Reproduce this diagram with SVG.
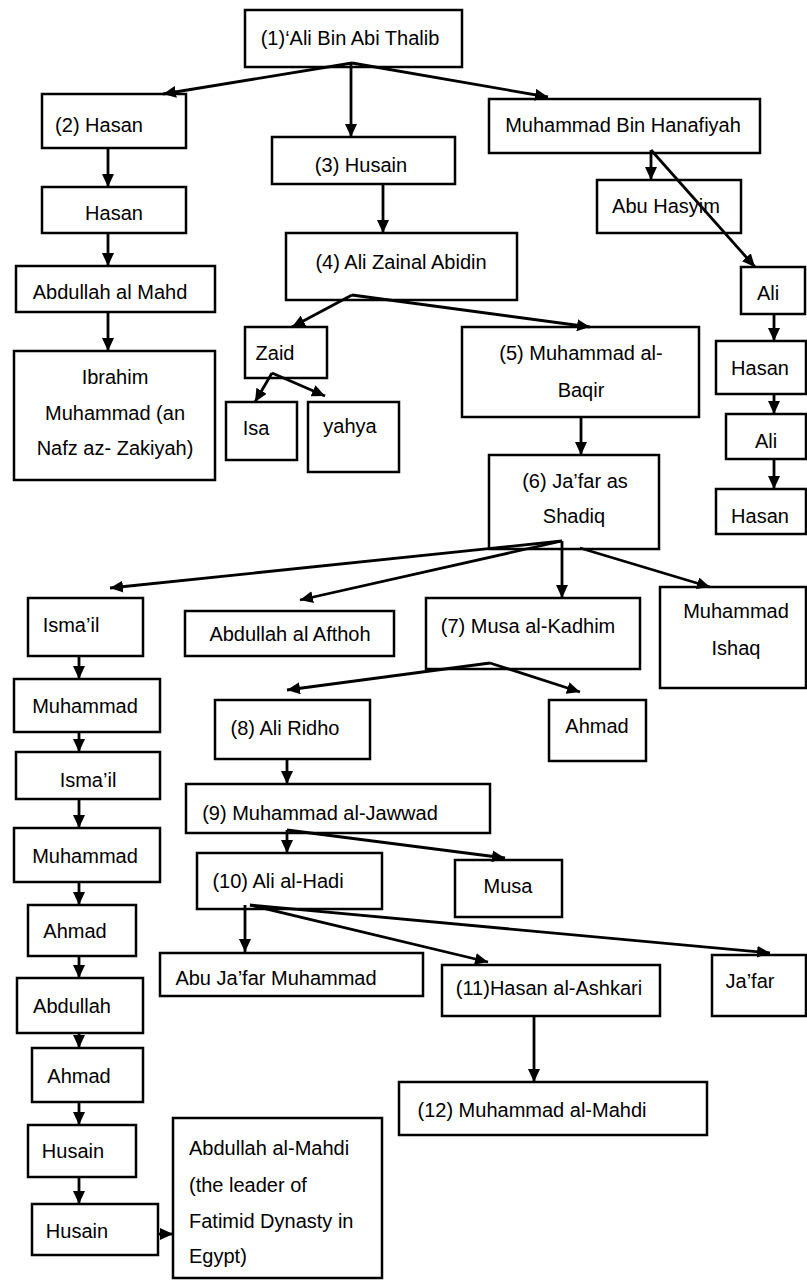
<svg xmlns="http://www.w3.org/2000/svg" width="807" height="1281" viewBox="0 0 807 1281">
<defs>
<marker id="ah" markerUnits="userSpaceOnUse" markerWidth="14" markerHeight="12" refX="13" refY="6" orient="auto">
<path d="M0,0 L13,6 L0,12 z" fill="#000"/>
</marker>
<style>
rect{fill:#fff;stroke:#000;stroke-width:2.5}
text{font-family:"Liberation Sans",Arial,sans-serif;font-size:20px;fill:#000}
.m{text-anchor:middle}
.c line{stroke:#000;stroke-width:2.8;fill:none}
.a{marker-end:url(#ah)}
</style>
</defs>
<rect x="0" y="0" width="807" height="1281" style="fill:#fff;stroke:none"/>
<g id="n1"><rect x="245" y="10" width="217" height="57"/><text class="m" x="350" y="45">(1)‘Ali Bin Abi Thalib</text></g>
<g id="n2"><rect x="42" y="94" width="144" height="54"/><text class="m" x="99" y="132">(2) Hasan</text></g>
<g id="n2a"><rect x="42" y="187" width="144" height="46"/><text class="m" x="114" y="220">Hasan</text></g>
<g id="n2b"><rect x="16" y="266" width="199" height="46"/><text class="m" x="110" y="299">Abdullah al Mahd</text></g>
<g id="n2c"><rect x="14" y="351" width="201" height="129"/><text class="m" x="115" y="384">Ibrahim</text><text class="m" x="115" y="420">Muhammad (an</text><text class="m" x="115" y="455">Nafz az- Zakiyah)</text></g>
<g id="n3"><rect x="272" y="137" width="183" height="47"/><text class="m" x="361" y="172">(3) Husain</text></g>
<g id="n4"><rect x="286" y="233" width="231" height="67"/><text class="m" x="401" y="269">(4) Ali Zainal Abidin</text></g>
<g id="mbh"><rect x="489" y="99" width="271" height="54"/><text class="m" x="623" y="132">Muhammad Bin Hanafiyah</text></g>
<g id="abuhasyim"><rect x="597" y="180" width="144" height="53"/><text class="m" x="666" y="213">Abu Hasyim</text></g>
<g id="ali1"><rect x="741" y="267" width="64" height="47"/><text class="m" x="768" y="300">Ali</text></g>
<g id="hasan1"><rect x="716" y="341" width="90" height="53"/><text class="m" x="760" y="375">Hasan</text></g>
<g id="ali2"><rect x="726" y="414" width="80" height="45"/><text class="m" x="766" y="448">Ali</text></g>
<g id="hasan2"><rect x="716" y="489" width="90" height="45"/><text class="m" x="760" y="523">Hasan</text></g>
<g id="zaid"><rect x="245" y="327" width="82" height="51"/><text class="m" x="275" y="360">Zaid</text></g>
<g id="isa"><rect x="226" y="402" width="71" height="58"/><text class="m" x="256" y="435">Isa</text></g>
<g id="yahya"><rect x="308" y="402" width="91" height="70"/><text class="m" x="350" y="433">yahya</text></g>
<g id="n5"><rect x="462" y="327" width="237" height="90"/><text class="m" x="581" y="360">(5) Muhammad al-</text><text class="m" x="581" y="397">Baqir</text></g>
<g id="n6"><rect x="489" y="455" width="170" height="94"/><text class="m" x="575" y="488">(6) Ja’far as</text><text class="m" x="574" y="523">Shadiq</text></g>
<g id="ismail1"><rect x="28" y="598" width="115" height="58"/><text class="m" x="71" y="632">Isma’il</text></g>
<g id="afthoh"><rect x="185" y="611" width="209" height="45"/><text class="m" x="290" y="641">Abdullah al Afthoh</text></g>
<g id="n7"><rect x="426" y="598" width="214" height="71"/><text class="m" x="528" y="633">(7) Musa al-Kadhim</text></g>
<g id="ishaq"><rect x="660" y="587" width="146" height="101"/><text class="m" x="736" y="618">Muhammad</text><text class="m" x="736" y="655">Ishaq</text></g>
<g id="muh1"><rect x="14" y="679" width="146" height="53"/><text class="m" x="85" y="713">Muhammad</text></g>
<g id="ismail2"><rect x="16" y="752" width="144" height="47"/><text class="m" x="88" y="787">Isma’il</text></g>
<g id="muh2"><rect x="14" y="828" width="146" height="54"/><text class="m" x="85" y="863">Muhammad</text></g>
<g id="ahmad1"><rect x="28" y="905" width="108" height="51"/><text class="m" x="75" y="938">Ahmad</text></g>
<g id="abdullah"><rect x="17" y="978" width="126" height="55"/><text class="m" x="72" y="1013">Abdullah</text></g>
<g id="ahmad2"><rect x="32" y="1048" width="111" height="54"/><text class="m" x="79" y="1083">Ahmad</text></g>
<g id="husain1"><rect x="28" y="1125" width="108" height="52"/><text class="m" x="73" y="1158">Husain</text></g>
<g id="husain2"><rect x="32" y="1204" width="126" height="51"/><text class="m" x="77" y="1238">Husain</text></g>
<g id="mahdi_f"><rect x="173" y="1118" width="209" height="160"/><text x="189" y="1155">Abdullah al-Mahdi</text><text x="189" y="1192">(the leader of</text><text x="189" y="1228">Fatimid Dynasty in</text><text x="189" y="1263">Egypt)</text></g>
<g id="n8"><rect x="215" y="700" width="155" height="59"/><text class="m" x="285" y="735">(8) Ali Ridho</text></g>
<g id="ahmad3"><rect x="549" y="700" width="97" height="61"/><text class="m" x="597" y="733">Ahmad</text></g>
<g id="n9"><rect x="186" y="784" width="304" height="49"/><text class="m" x="320" y="820">(9) Muhammad al-Jawwad</text></g>
<g id="n10"><rect x="197" y="853" width="185" height="56"/><text class="m" x="278" y="888">(10) Ali al-Hadi</text></g>
<g id="musa"><rect x="455" y="860" width="107" height="57"/><text class="m" x="508" y="893">Musa</text></g>
<g id="abujafar"><rect x="160" y="953" width="263" height="43"/><text class="m" x="276" y="985">Abu Ja’far Muhammad</text></g>
<g id="n11"><rect x="442" y="965" width="218" height="51"/><text class="m" x="549" y="995">(11)Hasan al-Ashkari</text></g>
<g id="jafar"><rect x="712" y="955" width="94" height="61"/><text class="m" x="750" y="988">Ja’far</text></g>
<g id="n12"><rect x="399" y="1082" width="308" height="53"/><text class="m" x="532" y="1117">(12) Muhammad al-Mahdi</text></g>
<g class="c" id="connectors">
<line class="a" x1="352" y1="63" x2="163" y2="94"/>
<line class="a" x1="351" y1="63" x2="351" y2="137"/>
<line class="a" x1="352" y1="63" x2="548" y2="97"/>
<line class="a" x1="108" y1="148" x2="108" y2="187"/>
<line class="a" x1="108" y1="233" x2="108" y2="266"/>
<line class="a" x1="108" y1="312" x2="108" y2="351"/>
<line class="a" x1="383" y1="184" x2="383" y2="233"/>
<line class="a" x1="352" y1="295" x2="292" y2="327"/>
<line class="a" x1="352" y1="295" x2="590" y2="327"/>
<line class="a" x1="272" y1="373" x2="255" y2="402"/>
<line class="a" x1="272" y1="373" x2="325" y2="396"/>
<line class="a" x1="651" y1="150" x2="651" y2="180"/>
<line class="a" x1="651" y1="150" x2="755" y2="267"/>
<line class="a" x1="774" y1="314" x2="774" y2="341"/>
<line class="a" x1="774" y1="394" x2="774" y2="414"/>
<line class="a" x1="774" y1="459" x2="774" y2="489"/>
<line class="a" x1="581" y1="417" x2="581" y2="455"/>
<line class="a" x1="562" y1="541" x2="110" y2="588"/>
<line class="a" x1="562" y1="541" x2="300" y2="600"/>
<line class="a" x1="562" y1="541" x2="562" y2="598"/>
<line class="a" x1="580" y1="548" x2="710" y2="587"/>
<line class="a" x1="79" y1="656" x2="79" y2="679"/>
<line class="a" x1="79" y1="732" x2="79" y2="752"/>
<line class="a" x1="79" y1="799" x2="79" y2="828"/>
<line class="a" x1="79" y1="882" x2="79" y2="905"/>
<line class="a" x1="79" y1="956" x2="79" y2="978"/>
<line class="a" x1="79" y1="1033" x2="79" y2="1048"/>
<line class="a" x1="79" y1="1102" x2="79" y2="1125"/>
<line class="a" x1="79" y1="1177" x2="79" y2="1204"/>
<line class="a" x1="158" y1="1234" x2="173" y2="1234"/>
<line class="a" x1="490" y1="663" x2="287" y2="690"/>
<line class="a" x1="490" y1="663" x2="580" y2="692"/>
<line class="a" x1="287" y1="759" x2="287" y2="784"/>
<line class="a" x1="287" y1="830" x2="287" y2="853"/>
<line class="a" x1="287" y1="830" x2="505" y2="858"/>
<line class="a" x1="245" y1="905" x2="245" y2="952"/>
<line class="a" x1="250" y1="905" x2="488" y2="962"/>
<line class="a" x1="250" y1="905" x2="770" y2="953"/>
<line class="a" x1="534" y1="1016" x2="534" y2="1082"/>
</g>
</svg>
